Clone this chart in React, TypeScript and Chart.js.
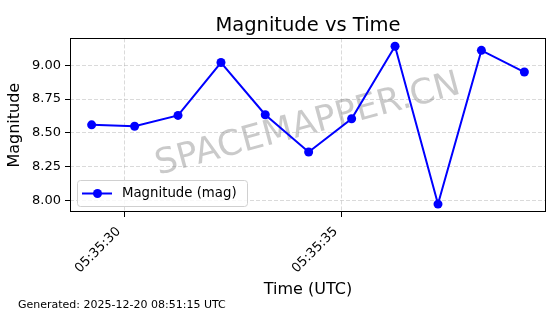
import React, { useEffect, useRef } from "react";
import { Chart, registerables } from "chart.js";

Chart.register(...registerables);

// ---- Data ----
const timeLabels = [
  "05:35:29.24", "05:35:30.23", "05:35:31.23", "05:35:32.22", "05:35:33.24",
  "05:35:34.24", "05:35:35.23", "05:35:36.23", "05:35:37.22", "05:35:38.22", "05:35:39.21",
];
const magnitudes = [8.56, 8.55, 8.63, 9.02, 8.635, 8.36, 8.605, 9.14, 7.975, 9.11, 8.95];
const xTickLabels = ["05:35:30", "05:35:35"];
const yTickValues = [8.0, 8.25, 8.5, 8.75, 9.0];

const chartTitle = "Magnitude vs Time";
const seriesLabel = "Magnitude (mag)";
const xTitle = "Time (UTC)";
const yTitle = "Magnitude";
const footerText = "Generated: 2025-12-20 08:51:15 UTC";
const watermarkText = "SPACEMAPPER.CN";

const FONT = "'DejaVu Sans', sans-serif";
const LINE_COLOR = "#0000ff";

function toSeconds(t: string): number {
  const [h, m, s] = t.split(":").map(Number);
  return h * 3600 + m * 60 + s;
}
function fmtTime(v: number): string {
  const h = Math.floor(v / 3600);
  const m = Math.floor((v - h * 3600) / 60);
  const s = Math.round(v - h * 3600 - m * 60);
  const p = (n: number) => String(n).padStart(2, "0");
  return `${p(h)}:${p(m)}:${p(s)}`;
}

const xValues = timeLabels.map(toSeconds);
const xTickValues = xTickLabels.map(toSeconds);

function paddedRange(vals: number[]) {
  const mn = Math.min(...vals);
  const mx = Math.max(...vals);
  const pad = (mx - mn) * 0.05;
  return [mn - pad, mx + pad];
}

const decorPlugin = {
  id: "decor",
  beforeDatasetsDraw(chart: any) {
    const { ctx, chartArea } = chart;
    const cx = (chartArea.left + chartArea.right) / 2;
    const cy = (chartArea.top + chartArea.bottom) / 2;
    ctx.save();
    ctx.translate(cx, cy);
    ctx.rotate((-15 * Math.PI) / 180);
    ctx.font = `35px ${FONT}`;
    ctx.fillStyle = "rgba(128,128,128,0.42)";
    ctx.textAlign = "center";
    ctx.textBaseline = "middle";
    ctx.fillText(watermarkText, 0, 0);
    ctx.restore();
  },
  afterDatasetsDraw(chart: any) {
    const { ctx, chartArea } = chart;
    const l = Math.round(chartArea.left);
    const t = Math.round(chartArea.top);
    const r = Math.round(chartArea.right);
    const b = Math.round(chartArea.bottom);
    ctx.save();
    ctx.strokeStyle = "#000";
    ctx.lineWidth = 1;
    ctx.strokeRect(l + 0.5, t + 0.5, r - l - 1, b - t - 1);
    ctx.restore();
  },
  afterDraw(chart: any) {
    const { ctx, chartArea } = chart;
    // legend
    const bx = Math.round(chartArea.left) + 7.5;
    const by = Math.round(chartArea.bottom) - 31.5;
    const bw = 170;
    const bh = 26;
    ctx.save();
    ctx.beginPath();
    (ctx as any).roundRect(bx, by, bw, bh, 3);
    ctx.fillStyle = "rgba(255,255,255,0.8)";
    ctx.fill();
    ctx.strokeStyle = "#d0d0d0";
    ctx.lineWidth = 1;
    ctx.stroke();
    const ly = by + bh / 2;
    ctx.beginPath();
    ctx.moveTo(bx + 4.5, ly);
    ctx.lineTo(bx + 34.5, ly);
    ctx.strokeStyle = LINE_COLOR;
    ctx.lineWidth = 2;
    ctx.stroke();
    ctx.beginPath();
    ctx.arc(bx + 20, ly, 4.5, 0, Math.PI * 2);
    ctx.fillStyle = LINE_COLOR;
    ctx.fill();
    ctx.font = `13.3px ${FONT}`;
    ctx.fillStyle = "#000";
    ctx.textAlign = "left";
    ctx.textBaseline = "middle";
    ctx.fillText(seriesLabel, bx + 44.5, ly);
    // footer
    ctx.font = `11px ${FONT}`;
    ctx.fillText(footerText, 18, 305.5);
    ctx.restore();
  },
};

export default function App() {
  const canvasRef = useRef<HTMLCanvasElement | null>(null);

  useEffect(() => {
    document.body.style.margin = "0";
    const canvas = canvasRef.current;
    if (!canvas) return;
    const [xMin, xMax] = paddedRange(xValues);
    const [yMin, yMax] = paddedRange(magnitudes);

    const gridOpts = {
      color: "rgba(176,176,176,0.6)",
      lineWidth: 0.8,
      tickColor: "#000",
      tickLength: 5,
      tickWidth: 1,
    };

    const chart = new Chart(canvas, {
      type: "line",
      data: {
        datasets: [
          {
            label: seriesLabel,
            data: xValues.map((x, i) => ({ x, y: magnitudes[i] })),
            borderColor: LINE_COLOR,
            backgroundColor: LINE_COLOR,
            borderWidth: 2,
            pointRadius: 4.5,
            pointHoverRadius: 4.5,
            pointBackgroundColor: LINE_COLOR,
            pointBorderWidth: 0,
            tension: 0,
          },
        ],
      },
      options: {
        responsive: false,
        animation: false,
        devicePixelRatio: 1,
        layout: { padding: { left: 0, right: 14, top: 0, bottom: 0 } },
        plugins: {
          legend: { display: false },
          tooltip: { enabled: false },
          title: {
            display: true,
            fullSize: false,
            text: chartTitle,
            color: "#000",
            font: { family: FONT, size: 19.5, weight: "normal" },
            padding: { top: 14, bottom: 1 },
          },
        },
        scales: {
          x: {
            type: "linear",
            min: xMin,
            max: xMax,
            afterBuildTicks: (scale: any) => {
              scale.ticks = xTickValues.map((v) => ({ value: v }));
            },
            afterFit: (scale: any) => {
              scale.height = 102;
            },
            ticks: {
              color: "#000",
              font: { family: FONT, size: 13 },
              minRotation: 45,
              maxRotation: 45,
              padding: 7,
              labelOffset: -6,
              autoSkip: false,
              callback: (v: any) => fmtTime(Number(v)),
            },
            grid: gridOpts,
            border: { display: false, dash: [4, 2] },
            title: {
              display: true,
              text: xTitle,
              color: "#000",
              font: { family: FONT, size: 16 },
              padding: { top: 0, bottom: 15 },
            },
          },
          y: {
            type: "linear",
            min: yMin,
            max: yMax,
            afterBuildTicks: (scale: any) => {
              scale.ticks = yTickValues.map((v) => ({ value: v }));
            },
            afterFit: (scale: any) => {
              scale.width = 70;
            },
            ticks: {
              color: "#000",
              font: { family: FONT, size: 13 },
              padding: 4,
              callback: (v: any) => Number(v).toFixed(2),
            },
            grid: gridOpts,
            border: { display: false, dash: [4, 2] },
            title: {
              display: true,
              text: yTitle,
              color: "#000",
              font: { family: FONT, size: 16 },
              padding: { top: 5, bottom: 0 },
            },
          },
        },
      },
      plugins: [decorPlugin],
    } as any);

    return () => chart.destroy();
  }, []);

  return (
    <div style={{ position: "absolute", left: 0, top: 0, width: 560, height: 314 }}>
      <canvas ref={canvasRef} width={560} height={314} style={{ display: "block" }} />
    </div>
  );
}
